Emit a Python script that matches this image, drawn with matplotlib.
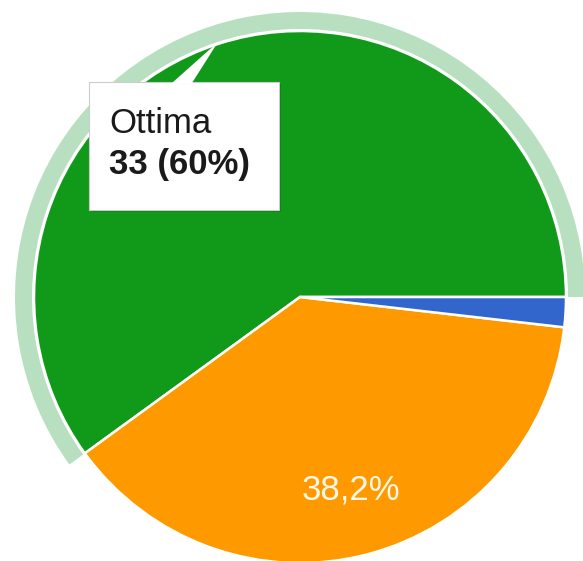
import matplotlib
matplotlib.use("Agg")
import matplotlib.pyplot as plt
from matplotlib.patches import FancyBboxPatch, Polygon

# Data
categories = ["Ottima", "Buona", "Sufficiente"]
values = [33, 21, 1]
colors = ["#119a1a", "#ff9900", "#3366cc"]
highlight_color = "#b8dfc0"
tooltip_title = "Ottima"
tooltip_value = "33 (60%)"
orange_label = "38,2%"

W, H = 583, 561
fig = plt.figure(figsize=(W / 100, H / 100), dpi=100)
ax = fig.add_axes([0, 0, 1, 1])

cx, cy = 300, H - 297
R = 266

# main pie
ax.pie(values, colors=colors, startangle=0, counterclock=True,
       radius=R, center=(cx, cy),
       wedgeprops=dict(edgecolor="white", linewidth=1.8))

# highlight ring on the hovered slice
total = sum(values)
ring_vals = [values[0], total - values[0]]
wedges, _ = ax.pie(ring_vals, colors=[highlight_color, "none"], startangle=0,
                   counterclock=True, radius=R + 19, center=(cx, cy),
                   wedgeprops=dict(width=17, edgecolor="none"))
wedges[1].set_visible(False)

# slice label
ax.text(351, H - 490, orange_label, color="#fff8e8", fontsize=25,
        family="Liberation Sans", ha="center", va="center")

ax.set_xlim(0, W)
ax.set_ylim(0, H)
ax.set_aspect("auto")
ax.axis("off")

# tooltip
bx0, bx1, by0, by1 = 89, 279, H - 210, H - 82
shadow = FancyBboxPatch((bx0 + 2, by0 - 2), bx1 - bx0, by1 - by0,
                        boxstyle="square,pad=0", facecolor="#00000030",
                        edgecolor="none", zorder=5)
ax.add_patch(shadow)
box = FancyBboxPatch((bx0, by0), bx1 - bx0, by1 - by0,
                     boxstyle="square,pad=0", facecolor="white",
                     edgecolor="#cccccc", linewidth=0.8, zorder=6)
ax.add_patch(box)
ptr = Polygon([(172, H - 83), (192, H - 83), (218, H - 42)], closed=True,
              facecolor="white", edgecolor="none", zorder=7)
ax.add_patch(ptr)
ax.text(109, H - 123, tooltip_title, fontsize=25, color="#1a1a1a",
        family="Liberation Sans", ha="left", va="center", zorder=8)
ax.text(109, H - 164, tooltip_value, fontsize=25, color="#1a1a1a",
        fontweight="bold", family="Liberation Sans", ha="left",
        va="center", zorder=8)

fig.savefig("out.png", dpi=100)
